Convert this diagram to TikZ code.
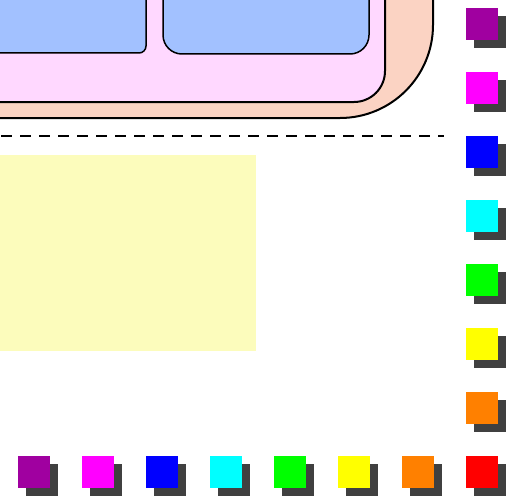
\documentclass[tikz,border=0pt]{standalone}
\usepackage{xcolor}
\usepackage{tikz}
\usetikzlibrary{shadows}
\definecolor{swatchpurple}{RGB}{160,0,160}
\definecolor{swatchmagenta}{RGB}{255,0,255}
\definecolor{swatchblue}{RGB}{0,0,255}
\definecolor{swatchcyan}{RGB}{0,255,255}
\definecolor{swatchgreen}{RGB}{0,255,0}
\definecolor{swatchyellow}{RGB}{255,255,0}
\definecolor{swatchorange}{RGB}{255,128,0}
\definecolor{swatchred}{RGB}{255,0,0}
\definecolor{shadowgrey}{RGB}{64,64,64}
\definecolor{framepeach}{RGB}{251,211,195}
\definecolor{panelpink}{RGB}{255,216,255}
\definecolor{cellblue}{RGB}{162,193,255}
\definecolor{notefill}{RGB}{252,252,188}

\begin{document}
\begin{tikzpicture}[x=1pt, y=-1pt,
  frame/.style={draw=black, line width=2pt, fill=framepeach, rounded corners=93pt},
  panel/.style={draw=black, line width=2pt, fill=panelpink, rounded corners=31pt},
  cell/.style={draw=black, line width=1.5pt, fill=cellblue},
  divider/.style={draw=black, line width=2.6pt, dash pattern=on 10.5pt off 8.5pt},
  note/.style={fill=notefill},
  swatch/.style={rectangle, anchor=north west, minimum size=32pt, inner sep=0pt,
                 drop shadow={shadow xshift=8pt, shadow yshift=-8pt,
                              fill=shadowgrey, opacity=1}}
]
  \useasboundingbox (0,0) rectangle (516,495);
  \clip (0,0) rectangle (516,495);
  \path[frame] (-120,-120) rectangle (433,118);
  \path[panel] (-100,-100) rectangle (385,102);
  \path[cell, rounded corners=7pt] (-40,-40) rectangle (146,53);
  \path[cell, rounded corners=19pt] (163,-40) rectangle (369,54);
  \draw[divider] (1,136) -- (444,136);
  \path[note] (-5,155) rectangle (256,351);
  \foreach \c [count=\i from 0] in {purple,magenta,blue,cyan,green,yellow,orange}
    \node[swatch, fill=swatch\c] (side\i) at (466,8+64*\i) {};
  \foreach \c [count=\i from 0] in {purple,magenta,blue,cyan,green,yellow,orange,red}
    \node[swatch, fill=swatch\c] (base\i) at (18+64*\i,456) {};
\end{tikzpicture}
\end{document}
